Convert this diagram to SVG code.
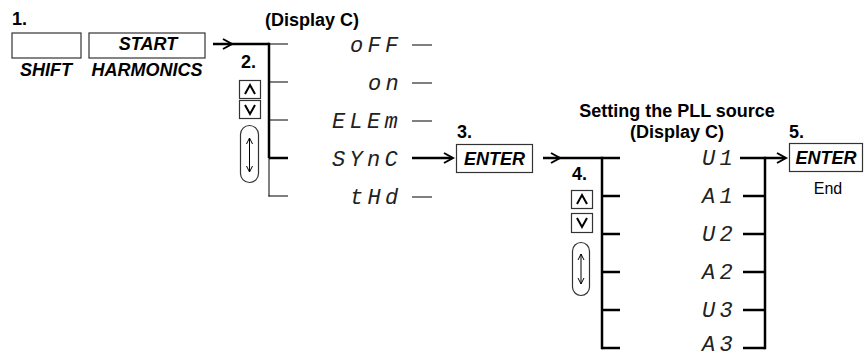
<svg xmlns="http://www.w3.org/2000/svg" width="864" height="358" viewBox="0 0 864 358">
<style>
.lbl{font-family:"Liberation Sans",Arial,sans-serif;font-weight:bold;font-size:18px;fill:#000}
.key{font-family:"Liberation Sans",Arial,sans-serif;font-weight:bold;font-style:italic;font-size:18px;fill:#000}
.end{font-family:"Liberation Sans",Arial,sans-serif;font-size:16px;fill:#000}
.seg{font-family:"Liberation Mono","DejaVu Sans Mono",monospace;font-style:italic;font-size:22px;letter-spacing:4.3px;fill:#222}
.box{fill:#fff;stroke:#333;stroke-width:1.2}
.thin{stroke:#000;stroke-width:1;fill:none}
.thick{stroke:#000;stroke-width:2.5;fill:none}
.ah{stroke:#000;stroke-width:2;fill:none;stroke-linejoin:miter}
.small{stroke:#000;stroke-width:1;fill:none}
.caret{stroke:#000;stroke-width:2;fill:none;stroke-linejoin:miter}
</style>

<g id="step1">
<text class="lbl" x="12" y="25">1.</text>
<rect class="box" x="12" y="33" width="69" height="25"/>
<rect class="box" x="89" y="33" width="116" height="25"/>
<text class="key" x="148" y="50" text-anchor="middle">START</text>
<text class="key" x="46" y="76" text-anchor="middle">SHIFT</text>
<text class="key" x="147" y="76" text-anchor="middle">HARMONICS</text>
</g>

<g id="step2">
<text class="lbl" x="241" y="68">2.</text>
<rect class="box" x="239.5" y="80.5" width="21" height="18"/>
<polyline class="caret" points="245,94 250,85 255,94"/>
<rect class="box" x="239.5" y="100.5" width="21" height="18"/>
<polyline class="caret" points="245,105 250,114 255,105"/>
<rect class="box" x="240.5" y="125.5" width="18" height="57" rx="9"/>
<line class="small" x1="249.5" y1="138" x2="249.5" y2="172"/>
<polyline class="small" points="246.5,144 249.5,138 252.5,144"/>
<polyline class="small" points="246.5,166 249.5,172 252.5,166"/>
</g>

<g id="displayC-1">
<text class="lbl" x="265" y="26">(Display C)</text>
<text class="seg" x="350" y="52">oFF</text>
<text class="seg" x="368" y="90">on</text>
<text class="seg" x="332" y="128">ELEm</text>
<text class="seg" x="332" y="166">SYnC</text>
<text class="seg" x="350" y="204">tHd</text>
</g>

<g id="step3">
<text class="lbl" x="457" y="138">3.</text>
<rect class="box" x="456.5" y="144.5" width="76" height="28"/>
<text class="key" x="494.5" y="165" text-anchor="middle">ENTER</text>
</g>

<g id="step4">
<text class="lbl" x="572" y="180">4.</text>
<rect class="box" x="571.5" y="190.5" width="21" height="18"/>
<polyline class="caret" points="577,204 582,195 587,204"/>
<rect class="box" x="571.5" y="213.5" width="21" height="19"/>
<polyline class="caret" points="577,218 582,227 587,218"/>
<rect class="box" x="572.5" y="242.5" width="17" height="53" rx="8.5"/>
<line class="small" x1="581" y1="254" x2="581" y2="284"/>
<polyline class="small" points="578,260 581,254 584,260"/>
<polyline class="small" points="578,278 581,284 584,278"/>
</g>

<g id="displayC-2">
<text class="lbl" x="677" y="117" text-anchor="middle">Setting the PLL source</text>
<text class="lbl" x="677" y="138" text-anchor="middle">(Display C)</text>
<text class="seg" x="702" y="165">U1</text>
<text class="seg" x="702" y="203">A1</text>
<text class="seg" x="702" y="241">U2</text>
<text class="seg" x="702" y="279">A2</text>
<text class="seg" x="702" y="317">U3</text>
<text class="seg" x="702" y="351">A3</text>
</g>

<g id="step5">
<text class="lbl" x="789" y="138">5.</text>
<rect class="box" x="789.5" y="143.5" width="73" height="28"/>
<text class="key" x="826" y="164" text-anchor="middle">ENTER</text>
<text class="end" x="828" y="194" text-anchor="middle">End</text>
</g>

<g id="connectors">
<line class="thick" x1="213" y1="44" x2="269" y2="44"/>
<polyline class="ah" points="223,39 232,44 223,49"/>
<line class="thick" x1="269" y1="42.75" x2="269" y2="158"/>
<line class="thin" x1="269" y1="158" x2="269" y2="196.5"/>
<line class="thin" x1="269" y1="44" x2="288" y2="44"/>
<line class="thin" x1="269" y1="82" x2="288" y2="82"/>
<line class="thin" x1="269" y1="120" x2="288" y2="120"/>
<line class="thick" x1="269" y1="158" x2="288" y2="158"/>
<line class="thin" x1="268.5" y1="196" x2="288" y2="196"/>
<line class="thin" x1="412" y1="45" x2="432" y2="45"/>
<line class="thin" x1="412" y1="83" x2="432" y2="83"/>
<line class="thin" x1="412" y1="121" x2="432" y2="121"/>
<line class="thin" x1="412" y1="197" x2="432" y2="197"/>
<line class="thick" x1="412" y1="158" x2="452" y2="158"/>
<polyline class="ah" points="444,153 453,158 444,163"/>
<line class="thick" x1="543" y1="158" x2="620" y2="158"/>
<polyline class="ah" points="551,153 560,158 551,163"/>
<line class="thick" x1="602" y1="156.75" x2="602" y2="349.25"/>
<line class="thick" x1="602" y1="196" x2="620" y2="196"/>
<line class="thick" x1="602" y1="234" x2="620" y2="234"/>
<line class="thick" x1="602" y1="272" x2="620" y2="272"/>
<line class="thick" x1="602" y1="310" x2="620" y2="310"/>
<line class="thick" x1="602" y1="348" x2="620" y2="348"/>
<line class="thick" x1="740" y1="158" x2="785" y2="158"/>
<polyline class="ah" points="777,153 786,158 777,163"/>
<line class="thick" x1="765" y1="156.75" x2="765" y2="349.25"/>
<line class="thick" x1="743" y1="196" x2="765" y2="196"/>
<line class="thick" x1="743" y1="234" x2="765" y2="234"/>
<line class="thick" x1="743" y1="272" x2="765" y2="272"/>
<line class="thick" x1="743" y1="310" x2="765" y2="310"/>
<line class="thick" x1="743" y1="348" x2="765" y2="348"/>
</g>
</svg>
